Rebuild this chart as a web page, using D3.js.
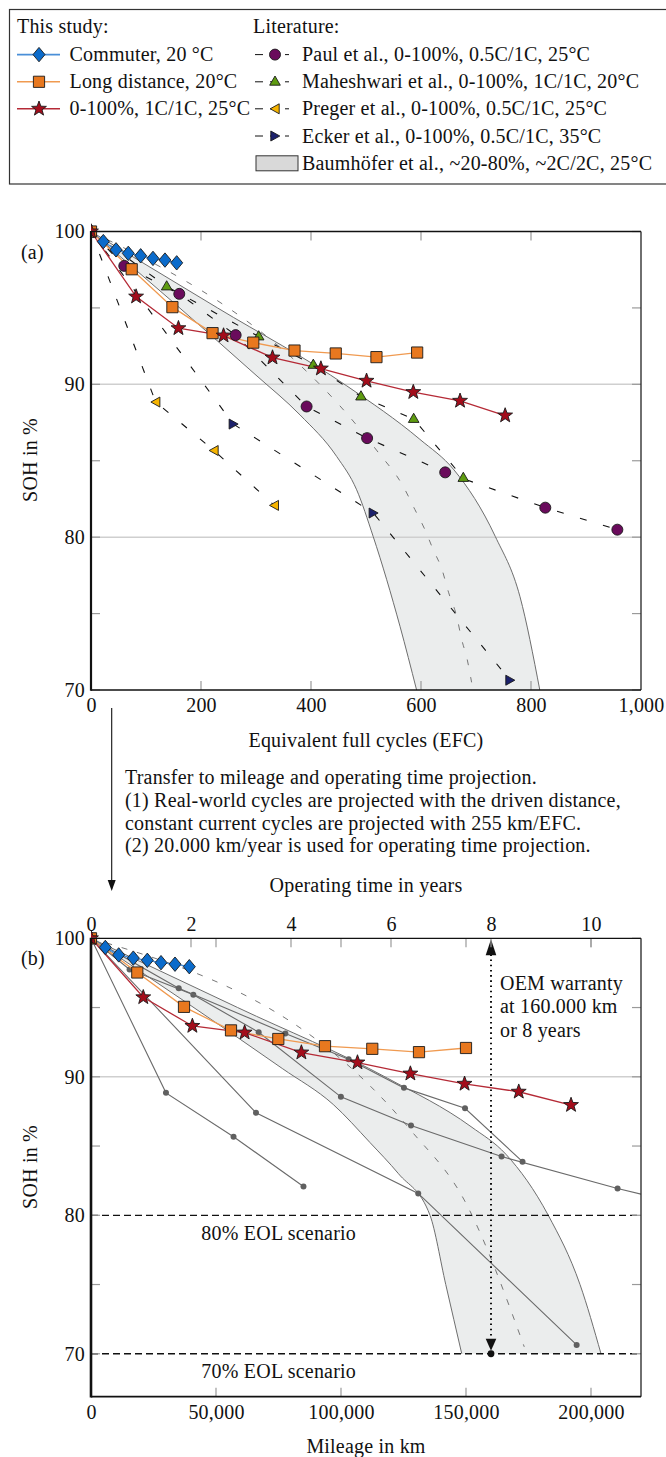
<!DOCTYPE html>
<html>
<head>
<meta charset="utf-8">
<script src="https://cdn.jsdelivr.net/npm/d3@7"></script>
<style>
  html, body { margin: 0; padding: 0; background: #fff; }
  svg text { font-family: "Liberation Serif", "Times New Roman", Times, serif; font-size: 20px; letter-spacing: 0.2px; fill: #111; }
</style>
</head>
<body>
<svg id="chart" width="666" height="1457" font-family="Liberation Serif, Times New Roman, serif"></svg>
<script>
// ---------- conversion constants ----------
const kmPerEfc = 255;      // constant current cycles
const kmPerYear = 20000;   // operating time projection

// ---------- this study ----------
const commuterEfc = [0, 22.4, 45.5, 67.8, 90.3, 112.7, 134.5, 155.8];
const commuterKm  = [0, 5720, 11080, 16920, 22520, 28000, 33600, 39320];
const commuterSoh = [100, 99.34, 98.8, 98.57, 98.41, 98.24, 98.13, 97.95];

const longEfc = [0, 74, 148, 221, 295, 370, 445, 519, 593];
const longKm  = [0, 18520, 37200, 56000, 74920, 93600, 112520, 131200, 150000];
const longSoh = [100, 97.53, 95.05, 93.35, 92.73, 92.21, 92.02, 91.78, 92.08];

const ccEfc = [0, 82, 159, 241, 330, 418, 501, 586, 671, 753];
const ccSoh = [100, 95.74, 93.67, 93.19, 91.75, 91.03, 90.23, 89.49, 88.92, 87.96];

// ---------- literature ----------
const paulEfc = [0, 60.5, 160.5, 263, 392, 502, 644, 826, 957];
const paulSoh = [100, 97.75, 95.92, 93.22, 88.55, 86.48, 84.24, 81.93, 80.49];

const maheshwariEfc = [0, 137.6, 304.9, 404.2, 490.9, 586.7, 676.9];
const maheshwariSoh = [100, 96.4, 93.13, 91.27, 89.2, 87.73, 83.87];

const pregerEfc = [0, 117.6, 223.6, 333.3];
const pregerSoh = [100, 88.84, 85.67, 82.08];

const eckerEfc = [0, 258.8, 513.3, 761.8];
const eckerSoh = [100, 87.4, 81.58, 70.64];

// Baumhöfer spread over EFC: upper and lower envelope, plus a single cell trace
const bandUpperEfc = [0, 230, 465, 598, 660, 735, 780, 816];
const bandUpperSoh = [100, 95.0, 89.9, 86.4, 84.4, 80.05, 76.1, 70.0];
const bandLowerEfc = [0, 300, 380, 446.7, 483, 513, 561.8, 592];
const bandLowerSoh = [100, 90.6, 88.0, 85.28, 83.1, 80.05, 74.17, 70.0];
const bandCellEfc = [0, 519, 568, 589, 607, 622, 638, 650, 665, 674, 684, 692];
const bandCellSoh = [100, 85.7, 83.3, 81.8, 80.5, 79.2, 77.9, 76.4, 74.8, 73.3, 72.0, 70.5];

// Baumhöfer spread over mileage
const bandUpperKm    = [0, 58650, 118600, 152000, 166000, 182900, 195600, 204000];
const bandUpperKmSoh = [100, 95.0, 89.9, 86.4, 84.4, 80.0, 75.0, 70.0];
const bandLowerKm    = [0, 76500, 96900, 111600, 123000, 135600, 141900, 148300];
const bandLowerKmSoh = [100, 90.6, 88.0, 85.25, 83.0, 80.0, 75.0, 70.0];
const bandCellKm     = [0, 127600, 149300, 173300];
const bandCellKmSoh  = [100, 86.2, 81.1, 70.5];

// ---------- axes ----------
const efcTicks = [0, 200, 400, 600, 800, 1000];
const kmTicks = [0, 50000, 100000, 150000, 200000];
const yearTicks = [0, 2, 4, 6, 8, 10];
const sohLabelTicks = [70, 80, 90, 100];
const sohMinorTicks = [70, 75, 80, 85, 90, 95, 100];
const warrantyKm = 160000;
const eolLevels = [80, 70];

// ---------- labels ----------
const studyTitle = "This study:";
const litTitle = "Literature:";
const commuterLabel = "Commuter, 20 °C";
const longLabel = "Long distance, 20°C";
const ccLabel = "0-100%, 1C/1C, 25°C";
const paulLabel = "Paul et al., 0-100%, 0.5C/1C, 25°C";
const maheshwariLabel = "Maheshwari et al., 0-100%, 1C/1C, 20°C";
const pregerLabel = "Preger et al., 0-100%, 0.5C/1C, 25°C";
const eckerLabel = "Ecker et al., 0-100%, 0.5C/1C, 35°C";
const baumLabel = "Baumhöfer et al., ~20-80%, ~2C/2C, 25°C";
const transferLines = [
  "Transfer to mileage and operating time projection.",
  "(1) Real-world cycles are projected with the driven distance,",
  "constant current cycles are projected with 255 km/EFC.",
  "(2) 20.000 km/year is used for operating time projection."
];
const warrantyLines = ["OEM warranty", "at 160.000 km", "or 8 years"];

// ---------- marker shapes ----------
function starPath(R, r) {
  const pts = [];
  for (let i = 0; i < 10; i++) {
    const a = -Math.PI / 2 + i * Math.PI / 5;
    const rad = i % 2 === 0 ? R : r;
    pts.push([rad * Math.cos(a), rad * Math.sin(a)]);
  }
  return "M" + pts.map(p => p[0].toFixed(2) + "," + p[1].toFixed(2)).join("L") + "Z";
}
function circlePath(r) {
  return `M${r},0A${r},${r} 0 1,1 ${-r},0A${r},${r} 0 1,1 ${r},0Z`;
}
const shapes = {
  diamond: "M0,-7.2L6,0L0,7.2L-6,0Z",
  square: "M-5.6,-5.6H5.6V5.6H-5.6Z",
  star: starPath(7.8, 3.2),
  circle: circlePath(5.5),
  triUp: "M0,-5.8L5.3,3.4L-5.3,3.4Z",
  triLeft: "M-4.8,0L4.2,-5L4.2,5Z",
  triRight: "M4.8,0L-4.2,-5L-4.2,5Z"
};

const zip = (a, b) => a.map((v, i) => [v, b[i]]);

const study = [
  { label: commuterLabel, efc: commuterEfc, km: commuterKm, soh: commuterSoh, line: "#4a8fd8", fill: "#0b6bcb", shape: "diamond" },
  { label: longLabel, efc: longEfc, km: longKm, soh: longSoh, line: "#f09a50", fill: "#e8781f", shape: "square" },
  { label: ccLabel, efc: ccEfc, km: ccEfc.map(e => e * kmPerEfc), soh: ccSoh, line: "#b52a36", fill: "#a30d1b", shape: "star" }
];
const literature = [
  { label: paulLabel, efc: paulEfc, soh: paulSoh, fill: "#6a0b5c", shape: "circle" },
  { label: maheshwariLabel, efc: maheshwariEfc, soh: maheshwariSoh, fill: "#5e9b10", shape: "triUp" },
  { label: pregerLabel, efc: pregerEfc, soh: pregerSoh, fill: "#f6b400", shape: "triLeft" },
  { label: eckerLabel, efc: eckerEfc, soh: eckerSoh, fill: "#1c216c", shape: "triRight" }
];

const svg = d3.select("#chart");
const defs = svg.append("defs");

// ---------- scales ----------
const xA = d3.scaleLinear().domain([0, 1000]).range([91, 641]);
const yA = d3.scaleLinear().domain([70, 100]).range([690, 231.5]);
const xB = d3.scaleLinear().domain([0, 220000]).range([91, 641]);
const yB = d3.scaleLinear().domain([66.9, 100]).range([1396.7, 938.3]);
const xYears = d3.scaleLinear().domain([0, 220000 / kmPerYear]).range([91, 641]);

defs.append("clipPath").attr("id", "clipA").append("rect")
  .attr("x", 91).attr("y", 231.5 - 10).attr("width", 550).attr("height", 458.5 + 10);
defs.append("clipPath").attr("id", "clipB").append("rect")
  .attr("x", 91).attr("y", 938.3 - 10).attr("width", 550).attr("height", 458.4 + 10);

function drawMarkers(g, pts, shape, fill) {
  g.append("g").selectAll("path").data(pts).join("path")
    .attr("d", shapes[shape])
    .attr("transform", d => `translate(${d[0]},${d[1]})`)
    .attr("fill", fill).attr("stroke", "#1a1a1a").attr("stroke-width", 0.9);
}

// closed band outline from an upper and a lower envelope (pixel points)
function bandPath(up, lo) {
  const gen = d3.line().curve(d3.curveMonotoneX);
  const upStr = gen(up);
  const loStr = gen(lo.slice().reverse());
  return { fill: upStr + "L" + loStr.slice(1) + "Z", up: upStr, lo: gen(lo) };
}

function frame(g, x0, x1, y0, y1, leftW) {
  g.append("line").attr("x1", x0).attr("x2", x1).attr("y1", y0).attr("y2", y0).attr("stroke", "#111").attr("stroke-width", 1.3);
  g.append("line").attr("x1", x1).attr("x2", x1).attr("y1", y0).attr("y2", y1).attr("stroke", "#222").attr("stroke-width", 1.3);
  g.append("line").attr("x1", x0).attr("x2", x1).attr("y1", y1).attr("y2", y1).attr("stroke", "#111").attr("stroke-width", 1.7);
  g.append("line").attr("x1", x0).attr("x2", x0).attr("y1", y0 - 0.6).attr("y2", y1 + 0.8).attr("stroke", "#111").attr("stroke-width", leftW);
}

function innerTicks(g, y, xScale, xVals, yVals, yTop, yBot, xL, xR) {
  const tk = g.append("g").attr("stroke", "#9a9a9a").attr("stroke-width", 1.2);
  tk.selectAll(null).data(yVals).join("line")
    .attr("x1", xL).attr("x2", xL + 9).attr("y1", d => y(d)).attr("y2", d => y(d));
  tk.selectAll(null).data(yVals).join("line")
    .attr("x1", xR - 9).attr("x2", xR).attr("y1", d => y(d)).attr("y2", d => y(d));
  tk.selectAll(null).data(xVals).join("line")
    .attr("x1", d => xScale(d)).attr("x2", d => xScale(d)).attr("y1", yBot - 9).attr("y2", yBot);
  tk.selectAll(null).data(xVals).join("line")
    .attr("x1", d => xScale(d)).attr("x2", d => xScale(d)).attr("y1", yTop).attr("y2", yTop + 9);
}

function cleanAxis(g) {
  g.select(".domain").remove();
  g.attr("font-family", null).attr("font-size", null);
  g.selectAll("text").attr("fill", "#111");
}

// ================= Legend =================
const leg = svg.append("g");
leg.append("rect").attr("x", 9.5).attr("y", 9.5).attr("width", 700).attr("height", 174.5)
  .attr("fill", "none").attr("stroke", "#333").attr("stroke-width", 1.2);
leg.append("text").attr("x", 17).attr("y", 33.3).text(studyTitle);
leg.append("text").attr("x", 253).attr("y", 33.3).text(litTitle);
const rowY = [54.6, 81.8, 108.8, 136, 163.3];
study.forEach((s, i) => {
  const cy = rowY[i];
  leg.append("line").attr("x1", 17).attr("x2", 60).attr("y1", cy).attr("y2", cy)
    .attr("stroke", s.line).attr("stroke-width", 1.6);
  drawMarkers(leg, [[39, cy]], s.shape, s.fill);
  leg.append("text").attr("x", 69.5).attr("y", cy + 6.6).text(s.label);
});
literature.forEach((s, i) => {
  const cy = rowY[i];
  leg.append("line").attr("x1", 255).attr("x2", 289).attr("y1", cy).attr("y2", cy)
    .attr("stroke", "#111").attr("stroke-width", 1).attr("stroke-dasharray", "8,7");
  drawMarkers(leg, [[275, cy]], s.shape, s.fill);
  leg.append("text").attr("x", 302).attr("y", cy + 6.6).text(s.label);
});
leg.append("rect").attr("x", 256).attr("y", rowY[4] - 7.5).attr("width", 42).attr("height", 15)
  .attr("fill", "#d9d9d9").attr("stroke", "#333").attr("stroke-width", 1);
leg.append("text").attr("x", 302).attr("y", rowY[4] + 6.6).text(baumLabel);

// ================= Panel (a): SOH vs EFC =================
const gA = svg.append("g");
const plotA = gA.append("g").attr("clip-path", "url(#clipA)");
const bandA = bandPath(
  zip(bandUpperEfc, bandUpperSoh).map(d => [xA(d[0]), yA(d[1])]),
  zip(bandLowerEfc, bandLowerSoh).map(d => [xA(d[0]), yA(d[1])]));
plotA.append("path").attr("d", bandA.fill).attr("fill", "#ebeded").attr("stroke", "none");
plotA.selectAll(null).data([80, 90]).join("line")
  .attr("x1", xA(0)).attr("x2", xA(1000)).attr("y1", d => yA(d)).attr("y2", d => yA(d))
  .attr("stroke", "#cfcfcf").attr("stroke-width", 1.5);
plotA.append("path").attr("d", bandA.up).attr("fill", "none").attr("stroke", "#6e6e6e").attr("stroke-width", 1);
plotA.append("path").attr("d", bandA.lo).attr("fill", "none").attr("stroke", "#6e6e6e").attr("stroke-width", 1);
plotA.append("path")
  .attr("d", d3.line().curve(d3.curveMonotoneX).x(d => xA(d[0])).y(d => yA(d[1]))(zip(bandCellEfc, bandCellSoh)))
  .attr("fill", "none").attr("stroke", "#777").attr("stroke-width", 1).attr("stroke-dasharray", "6,12");

const lineA = d3.line().x(d => xA(d[0])).y(d => yA(d[1]));
literature.forEach(s => {
  plotA.append("path").attr("d", lineA(zip(s.efc, s.soh)))
    .attr("fill", "none").attr("stroke", "#111").attr("stroke-width", 1.1).attr("stroke-dasharray", "7,17");
});
study.forEach(s => {
  plotA.append("path").attr("d", lineA(zip(s.efc, s.soh)))
    .attr("fill", "none").attr("stroke", s.line).attr("stroke-width", 1.3);
});
literature.forEach(s => {
  drawMarkers(plotA, zip(s.efc, s.soh).map(d => [xA(d[0]), yA(d[1])]), s.shape, s.fill);
});
study.forEach(s => {
  drawMarkers(plotA, zip(s.efc, s.soh).map(d => [xA(d[0]), yA(d[1])]), s.shape, s.fill);
});

innerTicks(gA, yA, xA, efcTicks.slice(1, -1), sohMinorTicks, 231.5, 690, 91, 641);
frame(gA, 91, 641, 231.5, 690, 2.2);

gA.append("g").attr("transform", "translate(91,0)")
  .call(d3.axisLeft(yA).tickValues(sohLabelTicks).tickSize(0).tickPadding(6))
  .call(cleanAxis);
gA.append("g").attr("transform", "translate(0,690)")
  .call(d3.axisBottom(xA).tickValues(efcTicks).tickSize(0).tickPadding(7.5).tickFormat(d3.format(",")))
  .call(cleanAxis);
gA.append("text").attr("x", 366).attr("y", 746.7).attr("text-anchor", "middle").text("Equivalent full cycles (EFC)");
gA.append("text").attr("transform", "translate(37,460) rotate(-90)").attr("text-anchor", "middle").text("SOH in %");
gA.append("text").attr("x", 21).attr("y", 258.5).text("(a)");

// ================= transfer note =================
const note = svg.append("g");
note.append("line").attr("x1", 111.7).attr("x2", 111.7).attr("y1", 708).attr("y2", 882)
  .attr("stroke", "#111").attr("stroke-width", 1.1);
note.append("path").attr("d", "M107.7,880L115.7,880L111.7,891Z").attr("fill", "#111");
note.selectAll(null).data(transferLines).join("text")
  .attr("x", 125).attr("y", (d, i) => 784 + i * 22.8).text(d => d);

// ================= Panel (b): SOH vs mileage =================
const gB = svg.append("g");
const plotB = gB.append("g").attr("clip-path", "url(#clipB)");
const toKm = e => e * kmPerEfc;
const bandB = bandPath(
  zip(bandUpperKm, bandUpperKmSoh).map(d => [xB(d[0]), yB(d[1])]),
  zip(bandLowerKm, bandLowerKmSoh).map(d => [xB(d[0]), yB(d[1])]));
plotB.append("path").attr("d", bandB.fill).attr("fill", "#ebeded").attr("stroke", "none");
plotB.append("line").attr("x1", xB(0)).attr("x2", xB(220000)).attr("y1", yB(90)).attr("y2", yB(90))
  .attr("stroke", "#cfcfcf").attr("stroke-width", 1.5);
plotB.append("path").attr("d", bandB.up).attr("fill", "none").attr("stroke", "#6e6e6e").attr("stroke-width", 1);
plotB.append("path").attr("d", bandB.lo).attr("fill", "none").attr("stroke", "#6e6e6e").attr("stroke-width", 1);
plotB.append("path")
  .attr("d", d3.line().curve(d3.curveMonotoneX).x(d => xB(d[0])).y(d => yB(d[1]))(zip(bandCellKm, bandCellKmSoh)))
  .attr("fill", "none").attr("stroke", "#777").attr("stroke-width", 1).attr("stroke-dasharray", "6,10");

// end-of-life scenarios
plotB.selectAll(null).data(eolLevels).join("line")
  .attr("x1", xB(0)).attr("x2", xB(220000)).attr("y1", d => yB(d)).attr("y2", d => yB(d))
  .attr("stroke", "#111").attr("stroke-width", 1.3).attr("stroke-dasharray", "7,4");

const lineB = d3.line().x(d => xB(d[0])).y(d => yB(d[1]));
literature.forEach(s => {
  const pts = zip(s.efc.map(toKm), s.soh);
  plotB.append("path").attr("d", lineB(pts)).attr("fill", "none").attr("stroke", "#6a6a6a").attr("stroke-width", 1.1);
  plotB.append("g").selectAll("circle").data(pts).join("circle")
    .attr("cx", d => xB(d[0])).attr("cy", d => yB(d[1])).attr("r", 3).attr("fill", "#606060");
});
study.forEach(s => {
  plotB.append("path").attr("d", lineB(zip(s.km, s.soh)))
    .attr("fill", "none").attr("stroke", s.line).attr("stroke-width", 1.3);
});
study.forEach(s => {
  drawMarkers(plotB, zip(s.km, s.soh).map(d => [xB(d[0]), yB(d[1])]), s.shape, s.fill);
});

// OEM warranty marker
const wx = xB(warrantyKm);
gB.append("line").attr("x1", wx).attr("x2", wx).attr("y1", yB(100) + 16).attr("y2", yB(70) - 14)
  .attr("stroke", "#111").attr("stroke-width", 2).attr("stroke-dasharray", "1.6,3.6");
gB.append("path").attr("d", `M${wx - 5.3},${yB(100) + 17}L${wx + 5.3},${yB(100) + 17}L${wx},${yB(100) + 1}Z`).attr("fill", "#111");
gB.append("path").attr("d", `M${wx - 5.3},${yB(70) - 15}L${wx + 5.3},${yB(70) - 15}L${wx},${yB(70) - 3}Z`).attr("fill", "#111");
gB.append("circle").attr("cx", wx).attr("cy", yB(70)).attr("r", 3.4).attr("fill", "#111");
gB.selectAll(null).data(warrantyLines).join("text")
  .attr("x", wx + 9).attr("y", (d, i) => 990 + i * 23.3).text(d => d);

gB.append("text").attr("x", 356).attr("y", yB(80) + 24.5).attr("text-anchor", "end").text("80% EOL scenario");
gB.append("text").attr("x", 356).attr("y", yB(70) + 24.5).attr("text-anchor", "end").text("70% EOL scenario");

innerTicks(gB, yB, xB, kmTicks.slice(1), sohMinorTicks, 938.3, 1396.7, 91, 641);
gB.append("g").attr("stroke", "#9a9a9a").attr("stroke-width", 1.2)
  .selectAll(null).data(yearTicks.slice(1)).join("line")
  .attr("x1", d => xYears(d)).attr("x2", d => xYears(d)).attr("y1", 938.3).attr("y2", 947.3);
frame(gB, 91, 641, 938.3, 1396.7, 2.6);

gB.append("g").attr("transform", "translate(91,0)")
  .call(d3.axisLeft(yB).tickValues(sohLabelTicks).tickSize(0).tickPadding(6))
  .call(cleanAxis);
gB.append("g").attr("transform", "translate(0,1396.7)")
  .call(d3.axisBottom(xB).tickValues(kmTicks).tickSize(0).tickPadding(8.3).tickFormat(d3.format(",")))
  .call(cleanAxis);
gB.append("g").attr("transform", "translate(0,938.3)")
  .call(d3.axisTop(xYears).tickValues(yearTicks).tickSize(0).tickPadding(7.6).tickFormat(d3.format("d")))
  .call(cleanAxis);
gB.append("text").attr("x", 366).attr("y", 892).attr("text-anchor", "middle").text("Operating time in years");
gB.append("text").attr("x", 366).attr("y", 1452.7).attr("text-anchor", "middle").text("Mileage in km");
gB.append("text").attr("transform", "translate(37,1167) rotate(-90)").attr("text-anchor", "middle").text("SOH in %");
gB.append("text").attr("x", 21).attr("y", 964.5).text("(b)");
</script>
</body>
</html>
